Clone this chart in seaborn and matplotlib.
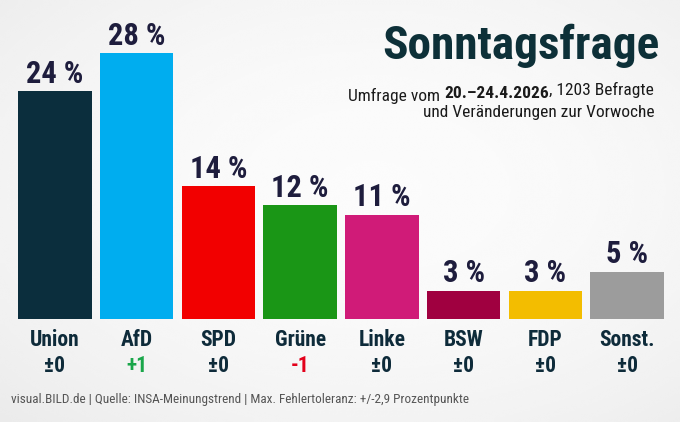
import matplotlib
matplotlib.use("Agg")
import matplotlib.font_manager as fm
import matplotlib.transforms as mtrans
import numpy as np
import seaborn as sns
from matplotlib import pyplot as plt

# data
parties = ["Union", "AfD", "SPD", "Grüne", "Linke", "BSW", "FDP", "Sonst."]
values = [24, 28, 14, 12, 11, 3, 3, 5]
changes = ["±0", "+1", "±0", "-1", "±0", "±0", "±0", "±0"]
bar_colors = ["#0b2e3d", "#00adef", "#f20000", "#1a9616", "#d01b78",
              "#a00040", "#f3bd00", "#9c9c9c"]

sns.set_theme(style="white")

names = {f.name for f in fm.fontManager.ttflist}
narrow = next((n for n in ["Liberation Sans Narrow", "Roboto Condensed",
                           "Open Sans Condensed", "Roboto"] if n in names),
              "DejaVu Sans")
plt.rcParams["font.family"] = [narrow, "DejaVu Sans"]

BG = "#f3f3f3"
DARK = "#0e2b3a"
NAVY = "#1e1d3d"
SUB = "#1a1a1a"

fig = plt.figure(figsize=(6.8, 4.22), dpi=100, facecolor=BG)

# soft radial background
bg_ax = fig.add_axes([0, 0, 1, 1], zorder=-1)
yy, xx = np.mgrid[0:1:200j, 0:1:320j]
r = np.sqrt(((xx - 0.55) / 0.75) ** 2 + ((yy - 0.45) / 0.75) ** 2)
shade = np.clip(0.985 - 0.06 * r ** 2, 0.92, 0.985)
bg_ax.imshow(shade, cmap="gray", vmin=0, vmax=1, aspect="auto",
             extent=[0, 1, 0, 1], interpolation="bicubic")
bg_ax.axis("off")

ax = fig.add_axes([14 / 680, 103 / 422, 654 / 680, 285 / 422])
ax.patch.set_alpha(0)

sns.barplot(x=parties, y=values, hue=parties, palette=bar_colors,
            width=0.9, saturation=1, legend=False, ax=ax,
            edgecolor="none")

ax.set_xlim(-0.5, 7.5)
ax.set_ylim(0, 30)
ax.set_yticks([])
sns.despine(ax=ax, left=True, bottom=True)

# value labels above bars
for i, v in enumerate(values):
    ax.annotate(f"{v} %", (i, v), xytext=(0, 5.8), textcoords="offset points",
                ha="center", va="baseline", fontsize=22, fontweight="bold",
                color=NAVY)

# party names as tick labels
ax.set_xticks(range(len(parties)))
ax.set_xticklabels(parties, fontsize=15.5, fontweight="bold", color=DARK)
ax.tick_params(axis="x", length=0, pad=7.5)
ax.set_xlabel("")

# changes vs previous week
chg_col = {"+": "#1aa64a", "-": "#e3001b"}
trans = mtrans.blended_transform_factory(ax.transData, fig.transFigure)
for i, c in enumerate(changes):
    ax.text(i, 1 - 372 / 422, c, transform=trans, ha="center", va="baseline",
            fontsize=15.5, fontweight="bold", color=chg_col.get(c[0], DARK))

# title and subtitle
fig.text(660 / 680, 1 - 59 / 422, "Sonntagsfrage", ha="right", va="baseline",
         fontsize=34, fontweight="bold", color="#0d3038")
t1 = fig.text(654 / 680, 1 - 95 / 422, ", 1203 Befragte", ha="right",
              va="baseline", fontsize=12.5, color=SUB)
t2 = ax.annotate("20.–24.4.2026", xy=(0, 0), xycoords=t1, ha="right",
                 va="baseline", fontsize=12.5, fontweight="bold", color=SUB,
                 annotation_clip=False)
ax.annotate("Umfrage vom ", xy=(0, 0), xycoords=t2, ha="right",
            va="baseline", fontsize=12.5, color=SUB, annotation_clip=False)
fig.text(655 / 680, 1 - 117 / 422, "und Veränderungen zur Vorwoche",
         ha="right", va="baseline", fontsize=12.5, color=SUB)

# footer
fig.text(11 / 680, 1 - 403 / 422,
         "visual.BILD.de | Quelle: INSA-Meinungstrend | "
         "Max. Fehlertoleranz: +/-2,9 Prozentpunkte",
         ha="left", va="baseline", fontsize=9.5, color="#555555")

fig.savefig("out.png", dpi=100, facecolor=BG)
